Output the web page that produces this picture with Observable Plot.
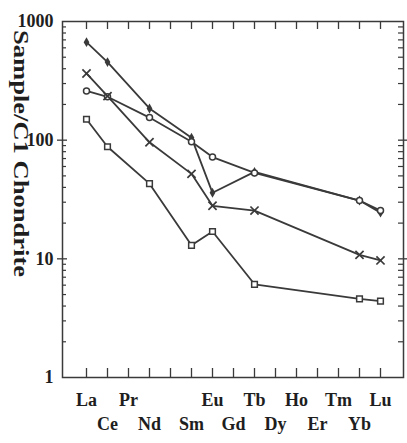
<!DOCTYPE html>
<html>
<head>
<meta charset="utf-8">
<script src="https://cdn.jsdelivr.net/npm/d3@7"></script>
<script src="https://cdn.jsdelivr.net/npm/@observablehq/plot@0.6"></script>
<style>
  html, body { margin: 0; padding: 0; background: #fff; }
</style>
</head>
<body>
<div id="chart"></div>
<script>
// REE elements (x categories, Pm has a tick but no label)
const elements = ["La","Ce","Pr","Nd","Pm","Sm","Eu","Gd","Tb","Dy","Ho","Er","Tm","Yb","Lu"];
const measured = ["La","Ce","Nd","Sm","Eu","Tb","Yb","Lu"];
// Chondrite-normalized values
const seriesDiamond = [670, 455, 185, 105, 36, 54, 31, 24.5];
const seriesCircle  = [260, 232, 155, 97, 72, 53, 31, 25.5];
const seriesCross   = [365, 235, 96, 52, 28, 25.5, 10.8, 9.7];
const seriesSquare  = [150, 88, 43, 13, 17, 6.1, 4.6, 4.4];
const yTickValues = [1, 10, 100, 1000];
const yLabel = "Sample/C1 Chondrite";

const W = 407, H = 443;
const mL = 62, mR = 4, mT = 21, mB = 66;
const frameW = W - mL - mR, frameH = H - mT - mB;
const ink = "#3a3a3a";
const textInk = "#1e1e1e";

function rows(name, vals) {
  return measured.map((el, i) => ({series: name, el, v: vals[i]}));
}
const dA = rows("diamond", seriesDiamond);
const dB = rows("circle", seriesCircle);
const dC = rows("cross", seriesCross);
const dD = rows("square", seriesSquare);
const all = [...dA, ...dB, ...dC, ...dD];

const minor = [];
for (const p of [1, 10, 100]) for (let m = 2; m <= 9; m++) minor.push(m * p);

const idx = d => elements.indexOf(d);

const svg = Plot.plot({
  width: W, height: H,
  marginLeft: mL, marginRight: mR, marginTop: mT, marginBottom: mB,
  style: {fontFamily: "'Liberation Serif', 'DejaVu Serif', serif", background: "#fff", color: textInk},
  x: {type: "point", domain: elements, padding: 1, axis: null},
  y: {type: "log", domain: [1, 1000], axis: null},
  marks: [
    Plot.frame({stroke: ink, strokeWidth: 1.5}),
    // inward x ticks, bottom and top
    Plot.tickX(elements, {x: d => d, insetTop: frameH - 9, stroke: ink, strokeWidth: 1.3}),
    Plot.tickX(elements, {x: d => d, insetBottom: frameH - 8, stroke: ink, strokeWidth: 1.3}),
    // minor y ticks, left and right (inward)
    Plot.tickY(minor, {y: d => d, insetRight: frameW - 4, stroke: ink, strokeWidth: 1.2}),
    Plot.tickY(minor, {y: d => d, insetLeft: frameW - 5, stroke: ink, strokeWidth: 1.2}),
    // major y ticks crossing the frame
    Plot.tickY([10, 100], {y: d => d, insetRight: frameW - 10, dx: -5, stroke: ink, strokeWidth: 1.3}),
    Plot.tickY([10, 100], {y: d => d, insetLeft: frameW - 9, dx: 4, stroke: ink, strokeWidth: 1.3}),
    // labels
    Plot.axisY({ticks: yTickValues, tickFormat: d => String(d), tickSize: 0, tickPadding: 9,
      fontSize: 18, fontWeight: "bold", label: null}),
    Plot.axisX({anchor: "bottom", tickSize: 0, tickPadding: 16, fontSize: 18, fontWeight: "bold",
      tickFormat: d => (idx(d) % 2 === 0 && d !== "Pm") ? d : "", label: null}),
    Plot.axisX({anchor: "bottom", tickSize: 0, tickPadding: 40, fontSize: 18, fontWeight: "bold",
      tickFormat: d => (idx(d) % 2 === 1) ? d : "", label: null}),
    // data
    Plot.line(all, {x: "el", y: "v", z: "series", stroke: ink, strokeWidth: 1.8}),
    Plot.dot(dA, {x: "el", y: "v", symbol: "diamond", fill: ink, r: 3}),
    Plot.dot(dB, {x: "el", y: "v", symbol: "circle", fill: "#fff", stroke: ink, strokeWidth: 1.5, r: 3}),
    Plot.dot(dC, {x: "el", y: "v", symbol: "times", stroke: ink, strokeWidth: 1.7, r: 3.8}),
    Plot.dot(dD, {x: "el", y: "v", symbol: "square", fill: "#fff", stroke: ink, strokeWidth: 1.5, r: 3.2})
  ]
});

d3.select(svg).append("text")
  .attr("transform", "translate(14,153.5) rotate(90)")
  .attr("text-anchor", "middle")
  .attr("font-size", 20)
  .attr("font-weight", "bold")
  .attr("fill", textInk)
  .attr("textLength", 247)
  .attr("lengthAdjust", "spacingAndGlyphs")
  .text(yLabel);

document.getElementById("chart").appendChild(svg);
</script>
</body>
</html>
